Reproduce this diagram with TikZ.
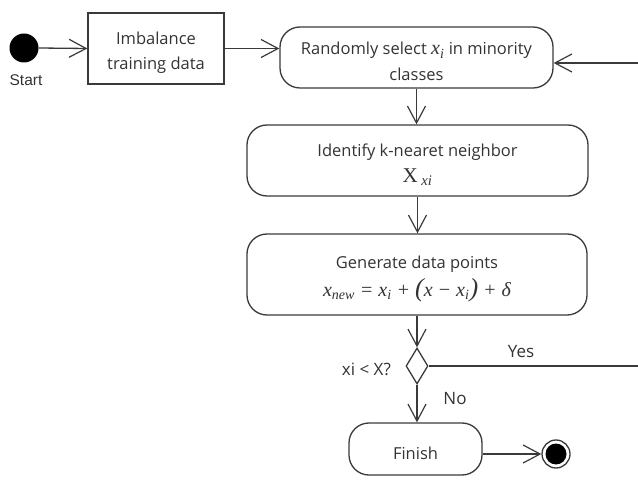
\documentclass[tikz,border=0pt]{standalone}
\usepackage{fontspec}
\setmainfont{Open Sans}
\newfontfamily\labelfont{Liberation Sans}
\newfontfamily\mfont{Liberation Serif}
\usetikzlibrary{arrows.meta,shapes.geometric}
\definecolor{ln}{HTML}{3A3A3A}
\definecolor{tx}{HTML}{333333}
\newcommand{\mv}[1]{{\mfont\itshape\fontsize{20}{20}\selectfont #1}}
\newcommand{\msub}[1]{\textsubscript{#1}}
\newcommand{\tstrut}{\rule{0pt}{21pt}}
\begin{document}
\begin{tikzpicture}[x=1pt,y=-1pt,
  every node/.style={text=tx},
  conn/.style={draw=ln,line width=1.3pt,-{Straight Barb[length=17pt,width=18pt,line width=1.2pt]}},
  plain/.style={draw=ln,line width=1.3pt},
  actbox/.style={draw=ln,line width=1.3pt,rounded corners=20pt,align=center,inner sep=0pt,font=\fontsize{16.5}{26}\selectfont},
  sqbox/.style={draw=ln,line width=1.3pt,align=center,inner sep=0pt,font=\fontsize{16.5}{25}\selectfont},
  lbl/.style={font=\labelfont\fontsize{15.5}{18}\selectfont,inner sep=0pt},
  lbl2/.style={font=\fontsize{17}{20}\selectfont,inner sep=0pt}]
\useasboundingbox (0,0) rectangle (638,481);
\node[circle,fill=black,minimum size=29pt,inner sep=0pt] (start) at (24,48) {};
\node[lbl] (startl) at (26,80) {Start};
\node[sqbox,minimum width=136pt,minimum height=71pt] (imb) at (156,48.5) {\tstrut Imbalance\\training data};
\node[actbox,minimum width=273pt,minimum height=61pt] (rand) at (416.5,57.5) {\tstrut Randomly select \mv{x\msub{i}} in minority\\classes};
\node[actbox,minimum width=341pt,minimum height=71pt] (ident) at (417.5,160.5) {\tstrut Identify k-nearet neighbor\\[0pt]{\mfont\fontsize{21}{21}\selectfont X\,\textsubscript{\itshape xi}}};
\node[actbox,minimum width=340pt,minimum height=81pt] (gen) at (417,274.5) {\tstrut Generate data points\\[2pt]\mv{x\msub{new} = x\msub{i} + {\fontsize{26}{26}\selectfont(}x − x\msub{i}{\fontsize{26}{26}\selectfont)} + δ}};
\node[diamond,draw=ln,line width=1.3pt,minimum width=22pt,minimum height=36pt,inner sep=0pt] (dia) at (417,366) {};
\node[actbox,minimum width=133pt,minimum height=52pt] (fin) at (415.5,449) {\tstrut Finish};
\node[circle,draw=ln,line width=1.3pt,minimum size=28pt,inner sep=0pt] (endo) at (556,454) {};
\node[circle,fill=black,minimum size=21pt,inner sep=0pt] (endi) at (556,454) {};
\node[lbl2,anchor=east] (cond) at (391,369) {xi < X?};
\node[lbl2] (yes) at (521,352) {Yes};
\node[lbl2] (no) at (455,399) {No};
\coordinate (retin) at (638,63);
\coordinate (yesout) at (638,366);
\draw[conn] (start.east) -- (imb.west);
\draw[conn] (imb.east) -- (imb.east -| rand.west);
\draw[conn] (retin) -- (retin -| rand.east);
\draw[conn] (rand.south) -- (rand.south |- ident.north);
\draw[conn] (ident.south) -- (ident.south |- gen.north);
\draw[conn] (gen.south) -- (gen.south |- dia.north);
\draw[plain] (dia.east) -- (yesout);
\draw[conn] (dia.south) -- (dia.south |- fin.north);
\draw[conn] (fin.east |- endo) -- (endo.west);
\end{tikzpicture}
\end{document}
